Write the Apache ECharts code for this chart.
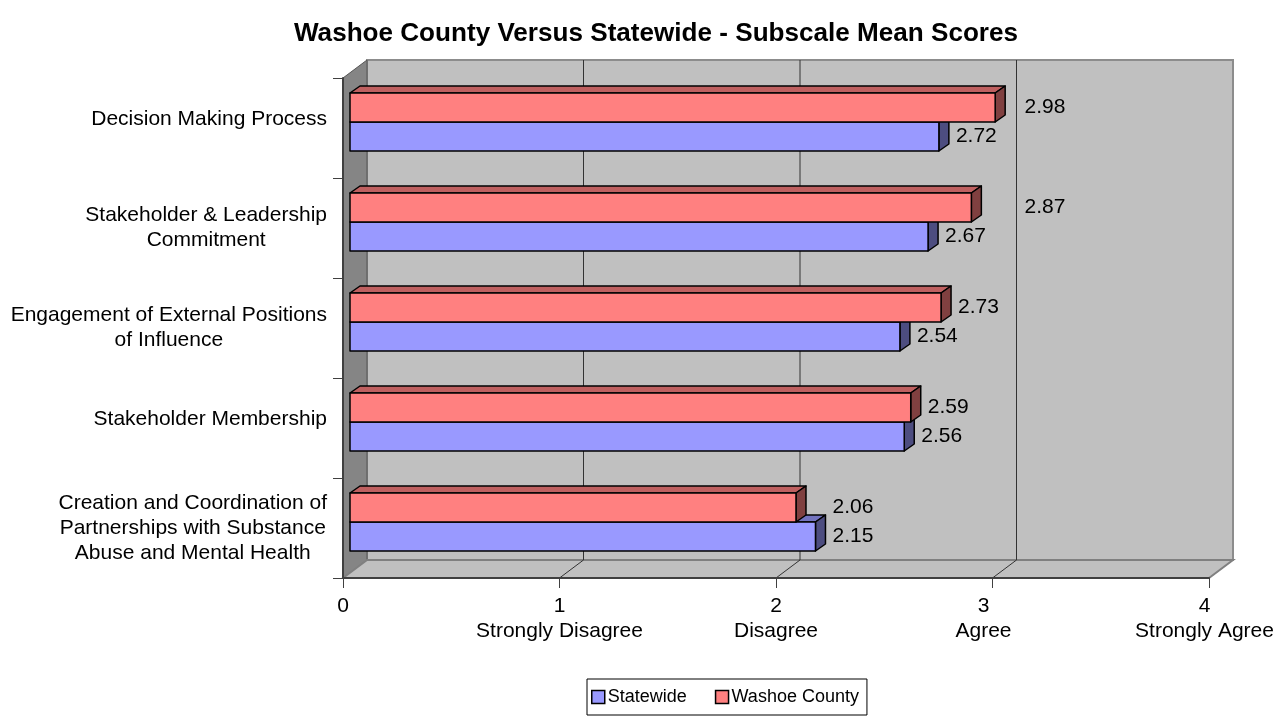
<!DOCTYPE html>
<html>
<head>
<meta charset="utf-8">
<script src="https://cdn.jsdelivr.net/npm/echarts@6/dist/echarts.min.js"></script>
<style>
  html, body { margin: 0; padding: 0; background: #ffffff; }
  #chart { width: 1286px; height: 728px; }
</style>
</head>
<body>
<div id="chart"></div>
<script>
// Subscale categories (top to bottom) and mean scores
const categories = [
  'Decision Making Process',
  'Stakeholder & Leadership\nCommitment',
  'Engagement of External Positions\nof Influence',
  'Stakeholder Membership',
  'Creation and Coordination of\nPartnerships with Substance\nAbuse and Mental Health'
];
const statewide = [2.72, 2.67, 2.54, 2.56, 2.15];
const washoe = [2.98, 2.87, 2.73, 2.59, 2.06];
const tickLabels = ['0', '1\nStrongly Disagree', '2\nDisagree', '3\nAgree', '4\nStrongly Agree'];
const seriesNames = ['Statewide', 'Washoe County'];

const FONT = "'Liberation Sans', Arial, sans-serif";
const TEXT_SIZE = 21;

// 3D box geometry (pixels)
const WALL = { dx: 24, dy: -18 };       // depth of the walls / floor
const BAR_FRONT = { dx: 7, dy: -6 };    // bar front plane, relative to the axis plane
const BAR_DEPTH = { dx: 10, dy: -7 };   // thickness of each bar in depth
const BAR_FRACTION = 0.29;              // bar height relative to category band
const LABEL_GAP = 7;

const COLORS = {
  Statewide: { front: '#9999FF', top: '#7373BF', side: '#4D4D80' },
  'Washoe County': { front: '#FF8080', top: '#BF6060', side: '#804040' }
};

const measureCtx = document.createElement('canvas').getContext('2d');
measureCtx.font = TEXT_SIZE + 'px ' + FONT;
function textWidth(s) { return measureCtx.measureText(s).width; }

// Walls, floor and back-wall gridlines
function renderFrame(params, api) {
  const cs = params.coordSys;
  const L = cs.x, T = cs.y, R = cs.x + cs.width, B = cs.y + cs.height;
  const dx = WALL.dx, dy = WALL.dy;
  const children = [];
  children.push({
    type: 'polygon',
    shape: { points: [[L + dx, T + dy], [R + dx, T + dy], [R + dx, B + dy], [L + dx, B + dy]] },
    style: { fill: '#C0C0C0', stroke: '#8C8C8C', lineWidth: 2 }
  });
  children.push({
    type: 'polygon',
    shape: { points: [[L, T], [L + dx, T + dy], [L + dx, B + dy], [L, B]] },
    style: { fill: '#858585', stroke: '#555555', lineWidth: 1 }
  });
  children.push({
    type: 'polygon',
    shape: { points: [[L, B], [L + dx, B + dy], [R + dx, B + dy], [R, B]] },
    style: { fill: '#C0C0C0', stroke: '#808080', lineWidth: 2 }
  });
  for (let v = 1; v <= 3; v++) {
    const x = api.coord([v, 0])[0];
    children.push({
      type: 'line',
      shape: { x1: x + dx, y1: T + dy, x2: x + dx, y2: B + dy },
      style: { stroke: '#333333', lineWidth: 1 }
    });
    children.push({
      type: 'line',
      shape: { x1: x, y1: B, x2: x + dx, y2: B + dy },
      style: { stroke: '#333333', lineWidth: 1 }
    });
  }
  return { type: 'group', children: children };
}

// Where a bar's value label starts: the upper bar's label clears the bar
// beneath it too, and labels step past the back-wall gridline at 3.
function labelX(api, ci, own, upper) {
  const endOf = (v) => api.coord([v, ci])[0] + BAR_FRONT.dx + BAR_DEPTH.dx + LABEL_GAP;
  const reach = upper ? Math.max(statewide[ci], washoe[ci]) : own;
  let x = endOf(reach);
  const w = textWidth(own.toFixed(2));
  const grid3 = api.coord([3, ci])[0] + WALL.dx;
  if (x < grid3 + 4 && x + w > grid3 - 4) {
    x = grid3 + 8;
  }
  return x;
}

function makeBarRenderer(name, upper) {
  const c = COLORS[name];
  return function (params, api) {
    const v = api.value(0);
    const ci = api.value(1);
    const end = api.coord([v, ci]);
    const start = api.coord([0, ci]);
    const band = api.size([0, 1])[1];
    const t = band * BAR_FRACTION;
    const mid = end[1] + BAR_FRONT.dy;
    const top = upper ? mid - t : mid;
    const bottom = top + t;
    const left = start[0] + BAR_FRONT.dx;
    const right = end[0] + BAR_FRONT.dx;
    const dx = BAR_DEPTH.dx, dy = BAR_DEPTH.dy;
    const edge = { stroke: '#000000', lineWidth: 1.5, lineJoin: 'round' };
    return {
      type: 'group',
      children: [
        {
          type: 'polygon',
          shape: { points: [[left, top], [left + dx, top + dy], [right + dx, top + dy], [right, top]] },
          style: Object.assign({ fill: c.top }, edge)
        },
        {
          type: 'polygon',
          shape: { points: [[right, top], [right + dx, top + dy], [right + dx, bottom + dy], [right, bottom]] },
          style: Object.assign({ fill: c.side }, edge)
        },
        {
          type: 'rect',
          shape: { x: left, y: top, width: right - left, height: bottom - top },
          style: Object.assign({ fill: c.front }, edge)
        },
        {
          type: 'text',
          style: {
            text: v.toFixed(2),
            x: labelX(api, ci, v, upper),
            y: (top + bottom) / 2,
            align: 'left',
            verticalAlign: 'middle',
            font: TEXT_SIZE + 'px ' + FONT,
            fill: '#000000'
          }
        }
      ]
    };
  };
}

const chart = echarts.init(document.getElementById('chart'), null, { renderer: 'canvas' });

const tickRich = {
  n: {},
  r3: { padding: [0, 18, 0, 0] },
  r4: { padding: [0, 9, 0, 0] }
};

chart.setOption({
  animation: false,
  backgroundColor: '#ffffff',
  title: {
    text: 'Washoe County Versus Statewide - Subscale Mean Scores',
    left: 651,
    textAlign: 'center',
    top: 16,
    textStyle: { fontFamily: FONT, fontSize: 26.1, fontWeight: 'bold', color: '#000000' }
  },
  legend: {
    data: seriesNames.map((n) => ({
      name: n,
      itemStyle: { color: COLORS[n].front, borderColor: '#000000', borderWidth: 1.5 }
    })),
    icon: 'rect',
    itemWidth: 13,
    itemHeight: 13,
    itemGap: 28,
    left: 587,
    top: 679,
    padding: [9, 8, 9, 4],
    borderColor: '#000000',
    borderWidth: 1,
    selectedMode: false,
    textStyle: { fontFamily: FONT, fontSize: 18, color: '#000000', padding: [0, 0, 0, -2] }
  },
  grid: { left: 343, top: 78, width: 866, height: 500 },
  xAxis: {
    type: 'value',
    min: 0,
    max: 4,
    interval: 1,
    z: 10,
    splitLine: { show: false },
    axisLine: { show: true, lineStyle: { color: '#404040', width: 2 } },
    axisTick: { show: true, length: 10, lineStyle: { color: '#404040', width: 1 } },
    axisLabel: {
      formatter: (v) => {
        const style = v === 3 ? 'r3' : v === 4 ? 'r4' : 'n';
        return tickLabels[v].split('\n').map((l) => '{' + style + '|' + l + '}').join('\n');
      },
      rich: tickRich,
      fontFamily: FONT,
      fontSize: TEXT_SIZE,
      lineHeight: 25,
      color: '#000000',
      margin: 16
    }
  },
  yAxis: {
    type: 'category',
    data: categories,
    inverse: true,
    z: 10,
    axisLine: { show: true, lineStyle: { color: '#404040', width: 2 } },
    axisTick: { show: true, length: 10, lineStyle: { color: '#404040', width: 1 } },
    splitLine: { show: false },
    axisLabel: {
      margin: 16,
      align: 'right',
      color: '#000000',
      // single-line labels sit a little above the band centre
      formatter: (value) => {
        const lines = value.split('\n');
        const style = lines.length === 1 ? 's' : 'c';
        return lines.map((l) => '{' + style + '|' + l + '}').join('\n');
      },
      rich: {
        c: { align: 'center', fontFamily: FONT, fontSize: TEXT_SIZE, lineHeight: 25, color: '#000000' },
        s: { align: 'center', fontFamily: FONT, fontSize: TEXT_SIZE, lineHeight: 25, color: '#000000', padding: [0, 0, 17, 0] }
      }
    }
  },
  series: [
    {
      type: 'custom',
      name: 'frame',
      silent: true,
      z: 1,
      clip: false,
      renderItem: renderFrame,
      data: [[0, 0]],
      encode: { x: 0, y: 1 }
    },
    {
      type: 'custom',
      name: seriesNames[0],
      z: 2,
      clip: false,
      itemStyle: { color: COLORS[seriesNames[0]].front },
      renderItem: makeBarRenderer(seriesNames[0], false),
      data: statewide.map((v, i) => [v, i]),
      encode: { x: 0, y: 1 }
    },
    {
      type: 'custom',
      name: seriesNames[1],
      z: 3,
      clip: false,
      itemStyle: { color: COLORS[seriesNames[1]].front },
      renderItem: makeBarRenderer(seriesNames[1], true),
      data: washoe.map((v, i) => [v, i]),
      encode: { x: 0, y: 1 }
    }
  ]
});
</script>
</body>
</html>
